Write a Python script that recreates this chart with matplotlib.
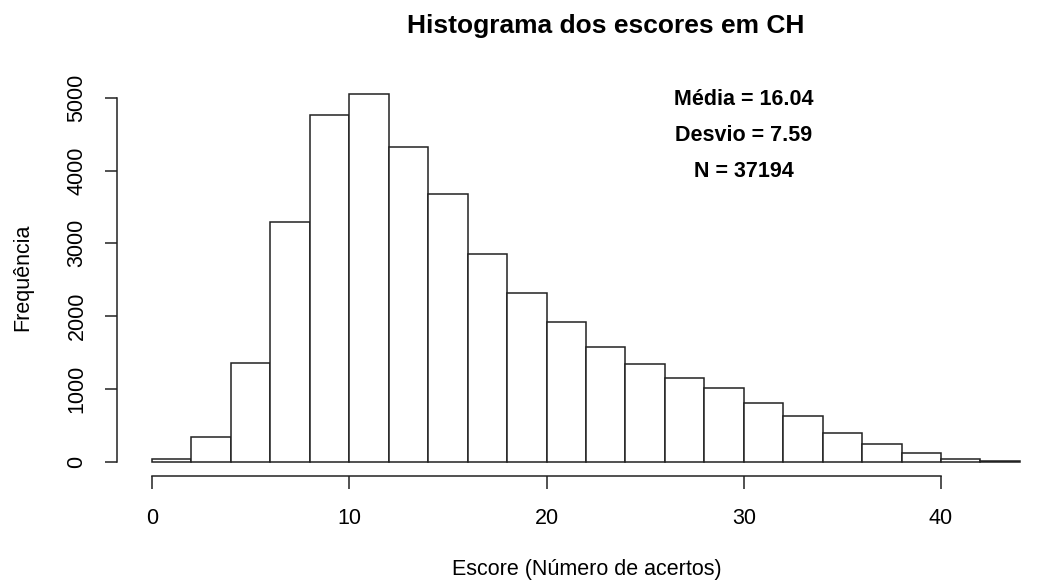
import numpy as np
import matplotlib
matplotlib.use('Agg')
import matplotlib.pyplot as plt

plt.rcParams['font.family'] = ['Liberation Sans', 'DejaVu Sans']

# histogram data (bins of width 2)
bin_edges = np.arange(0, 46, 2)
counts = [33, 343, 1360, 3288, 4758, 5051, 4319, 3677, 2853, 2313, 1923,
          1580, 1342, 1154, 1016, 810, 628, 398, 247, 120, 33, 5]
stats_lines = ['Média = 16.04', 'Desvio = 7.59', 'N = 37194']
xticks = [0, 10, 20, 30, 40]
yticks = [0, 1000, 2000, 3000, 4000, 5000]

W, H = 1049, 582
fig = plt.figure(figsize=(W / 100, H / 100), dpi=100)

# plot region in pixels
left, right, top, bottom = 116.7, 1049, 79.3, 476.4
ax = fig.add_axes([left / W, 1 - bottom / H, (right - left) / W, (bottom - top) / H])

ax.bar(bin_edges[:-1], counts, width=2, align='edge', bottom=0,
       facecolor='white', edgecolor='#222222', linewidth=1.1)

ax.set_xlim(-1.79, -1.79 + (right - left) / 19.725)
ax.set_ylim(-202, 5253)

for s in ['top', 'right']:
    ax.spines[s].set_visible(False)
ax.spines['bottom'].set_bounds(0, 40)
ax.spines['left'].set_bounds(0, 5000)
for s in ['bottom', 'left']:
    ax.spines[s].set_linewidth(1.1)
    ax.spines[s].set_color('#222222')

ax.set_xticks(xticks)
ax.set_yticks(yticks)
ax.set_yticklabels([str(v) for v in yticks], rotation=90, va='center')
ax.tick_params(axis='both', length=9, width=1.1, color='#222222', labelsize=15.5)
ax.tick_params(axis='x', pad=14)
ax.tick_params(axis='y', pad=12)

fig.text(606 / W, 1 - 26 / H, 'Histograma dos escores em CH', ha='center', va='center',
         fontsize=19, fontweight='bold')
fig.text(587 / W, 1 - 570 / H, 'Escore (Número de acertos)', ha='center', va='center',
         fontsize=15.5)
fig.text(23 / W, 1 - 277 / H, 'Frequência', ha='center', va='center',
         rotation=90, fontsize=15.5)

for i, line in enumerate(stats_lines):
    fig.text(744 / W, 1 - (99 + 36 * i) / H, line, ha='center', va='center',
             fontsize=15.5, fontweight='bold')

fig.savefig('out.png', dpi=100)
